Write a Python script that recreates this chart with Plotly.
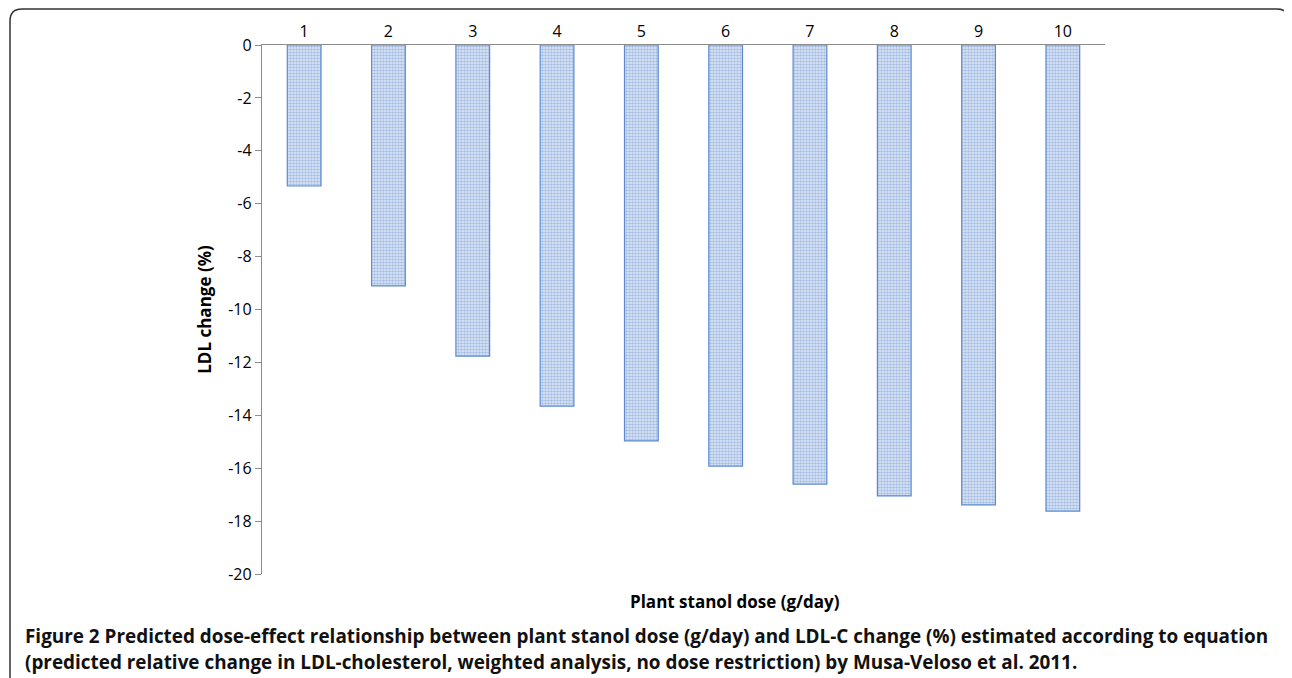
import plotly.graph_objects as go

doses = ["1", "2", "3", "4", "5", "6", "7", "8", "9", "10"]
ldl_change = [-5.33, -9.11, -11.76, -13.65, -14.97, -15.92, -16.60, -17.05, -17.39, -17.62]
y_ticks = [0, -2, -4, -6, -8, -10, -12, -14, -16, -18, -20]

OFF = 8  # page body margin
W, H = 1292 - OFF, 678 - OFF
L, R, T, B = 262 - OFF, 1105 - OFF, 45 - OFF, 574 - OFF

fig = go.Figure(go.Bar(
    x=doses, y=ldl_change, width=0.4,
    marker=dict(
        color="#c9d8f0",
        line=dict(color="#5b8ad0", width=1.2),
        pattern=dict(shape=".", size=3, solidity=0.6, fgcolor="#6a8fd0", bgcolor="#e4ecf8"),
    ),
    hoverinfo="x+y",
))

def px(x):
    return (x - OFF - L) / (R - L)

def py(y):
    return (B - (y - OFF)) / (B - T)

r = 12
xl, xr, yt, yb = 10, 1289, 9, 700
path = (f"M {px(xl)},{py(yb)} L {px(xl)},{py(yt + r)} "
        f"Q {px(xl)},{py(yt)} {px(xl + r)},{py(yt)} "
        f"L {px(xr - r)},{py(yt)} Q {px(xr)},{py(yt)} {px(xr)},{py(yt + r)} "
        f"L {px(xr)},{py(yb)}")

fig.update_layout(
    width=W, height=H,
    margin=dict(l=L, r=W - R, t=T, b=H - B),
    paper_bgcolor="white", plot_bgcolor="white",
    showlegend=False,
    font=dict(family="Open Sans", color="black"),
    xaxis=dict(
        side="top", showline=True, linecolor="#8c8c8c", linewidth=1.3,
        ticks="", tickfont=dict(size=16, color="black"), showgrid=False,
        range=[-0.5, 9.5],
    ),
    yaxis=dict(
        range=[-20, 0], tickvals=y_ticks, ticktext=[str(v) for v in y_ticks],
        showline=True, linecolor="#8c8c8c", linewidth=1.3,
        ticks="outside", ticklen=6, tickcolor="#8c8c8c",
        tickfont=dict(size=16, color="black"), showgrid=False, zeroline=False,
        title=dict(text="<b>LDL change (%)</b>", font=dict(size=17), standoff=12),
    ),
    shapes=[dict(type="path", path=path, xref="paper", yref="paper",
                 line=dict(color="#333333", width=1.5), layer="above")],
    annotations=[
        dict(text="<b>Plant stanol dose (g/day)</b>", x=px(735), y=py(601),
             xref="paper", yref="paper", yanchor="middle", showarrow=False, font=dict(size=17)),
        dict(text="<b>Figure 2 Predicted dose-effect relationship between plant stanol dose (g/day) and LDL-C change (%) estimated according to equation</b>",
             x=px(23), y=py(636), xref="paper", yref="paper", xanchor="left", yanchor="middle",
             showarrow=False, font=dict(size=18.9, color="#111111")),
        dict(text="<b>(predicted relative change in LDL-cholesterol, weighted analysis, no dose restriction) by Musa-Veloso et al. 2011.</b>",
             x=px(23), y=py(662), xref="paper", yref="paper", xanchor="left", yanchor="middle",
             showarrow=False, font=dict(size=18.9, color="#111111")),
    ],
)

fig.write_html("out.html")
